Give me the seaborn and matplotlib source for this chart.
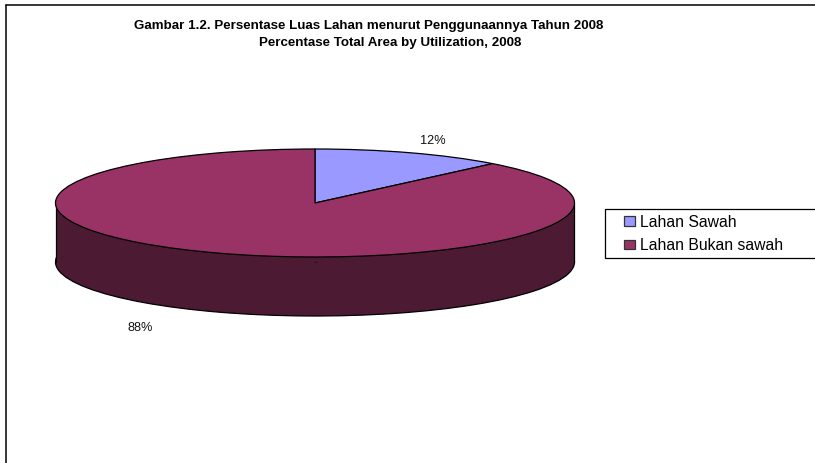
import matplotlib
matplotlib.use("Agg")
import matplotlib.pyplot as plt
from matplotlib.lines import Line2D
from matplotlib.patches import Rectangle, Patch
import seaborn as sns

categories = ["Lahan Sawah", "Lahan Bukan sawah"]
values = [12, 88]
top_colors = ["#9999FF", "#993366"]
side_colors = ["#4D4D80", "#4D1A33"]
title_line1 = "Gambar 1.2. Persentase Luas Lahan menurut Penggunaannya Tahun 2008"
title_line2 = "Percentase Total Area by Utilization, 2008"

sns.set_theme(style="white")
plt.rcParams["font.family"] = ["Liberation Sans", "DejaVu Sans"]

W, H = 815, 463
fig = plt.figure(figsize=(W / 100, H / 100), dpi=100, facecolor="white")

# pie geometry in pixels
cx, cy, rx, ry, depth = 315, 203, 259.5, 54, 59
depth_u = depth / ry
ax = fig.add_axes([(cx - rx) / W, 1 - (cy + ry + depth) / H, 2 * rx / W, (2 * ry + depth) / H])

edge = dict(edgecolor="black", linewidth=0.9)
# side wall: same pie lowered by the depth, joined to the top by a band
ax.pie(values, colors=sns.color_palette(side_colors), startangle=90, counterclock=False,
       center=(0, -depth_u), radius=1, wedgeprops=edge, frame=True)
ax.fill_between([-1, 1], [0, 0], [-depth_u, -depth_u], color=side_colors[1], lw=0, zorder=1.5)
ax.plot([-1, -1], [0, -depth_u], color="black", lw=0.9, zorder=1.6)
ax.plot([1, 1], [0, -depth_u], color="black", lw=0.9, zorder=1.6)
wedges, _ = ax.pie(values, colors=sns.color_palette(top_colors), startangle=90, counterclock=False,
                   center=(0, 0), radius=1, wedgeprops=edge, frame=True)
for w in wedges:
    w.set_zorder(3)
ax.set_aspect("auto")
ax.set_xlim(-1, 1)
ax.set_ylim(-1 - depth_u, 1)
ax.axis("off")
for art in ax.get_children():
    art.set_clip_on(False)

def px(x, y):
    return x / W, 1 - y / H

# outer frame (open at right and bottom, as cropped)
fig.add_artist(Line2D([px(6, 0)[0], 1], [px(0, 5)[1]] * 2, color="black", lw=1.1))
fig.add_artist(Line2D([px(6, 0)[0]] * 2, [px(0, 5)[1], 0], color="black", lw=1.1))

fig.text(*px(368.5, 26.5), title_line1, ha="center", va="center", fontsize=9.63, fontweight="bold", color="black")
fig.text(*px(390, 43), title_line2, ha="center", va="center", fontsize=9.63, fontweight="bold", color="black")

fig.text(*px(433, 141), f"{values[0]}%", ha="center", va="center", fontsize=9.2, color="#111111")
fig.text(*px(140, 328), f"{values[1]}%", ha="center", va="center", fontsize=9.2, color="#111111")

# legend box
fig.add_artist(Rectangle(px(605, 258), (W + 5 - 605) / W, (258 - 209) / H, transform=fig.transFigure,
                         facecolor="white", edgecolor="black", lw=0.9))
handles = [Patch(facecolor=c, edgecolor="#333333", lw=0.9) for c in top_colors]
leg = fig.legend(handles, categories, loc="center left", bbox_to_anchor=px(624, 234), frameon=False,
                 fontsize=11.3, handlelength=0.68, handleheight=0.55, handletextpad=0.33,
                 labelspacing=0.55, borderpad=0, borderaxespad=0, labelcolor="black")

fig.savefig("out.png", dpi=100, facecolor="white")
